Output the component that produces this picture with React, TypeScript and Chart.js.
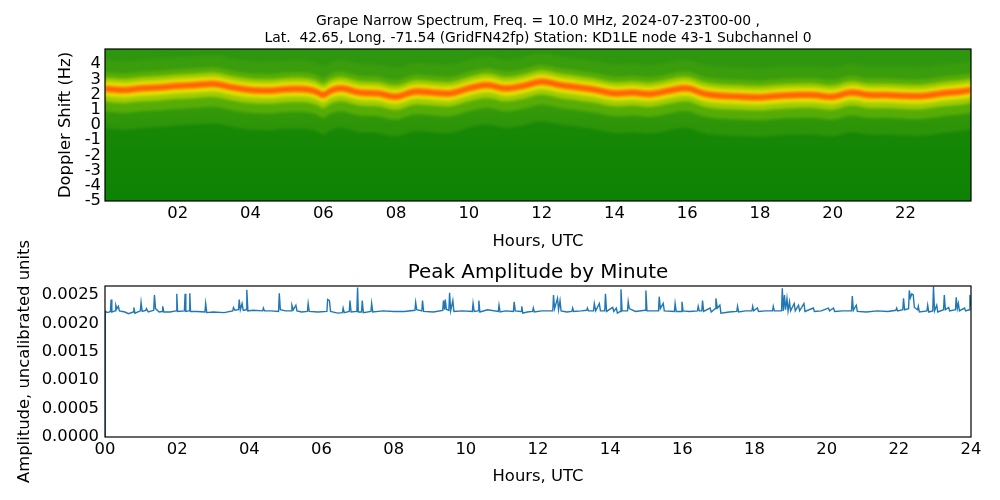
import React, { useEffect, useRef } from "react";
import { Chart, registerables } from "chart.js";

Chart.register(...registerables);

// ---------- data ----------
const spectrumTitle = [
  "Grape Narrow Spectrum, Freq. = 10.0 MHz, 2024-07-23T00-00 ,",
  "Lat.  42.65, Long. -71.54 (GridFN42fp) Station: KD1LE node 43-1 Subchannel 0",
];
const amplitudeTitle = "Peak Amplitude by Minute";

// peak Doppler ridge of the spectrogram (hours UTC, Hz)
const ridgeHours = [
  0, 0.5, 1, 1.5, 2, 2.5, 3, 3.5, 4, 4.5, 5, 5.5, 5.8, 6, 6.2, 6.5, 7, 7.5, 8, 8.5, 9, 9.5, 10,
  10.5, 11, 11.5, 12, 12.5, 13, 13.5, 14, 14.5, 15, 15.5, 16, 16.5, 17, 17.5, 18, 18.5, 19, 19.5,
  20, 20.5, 21, 21.5, 22, 22.5, 23, 23.5, 23.8,
];
const ridgeDoppler = [
  2.38, 2.3, 2.41, 2.47, 2.57, 2.63, 2.7, 2.47, 2.3, 2.26, 2.35, 2.35, 2.2, 1.97, 2.25, 2.41, 2.13,
  2.08, 1.86, 2.19, 2.13, 2.08, 2.41, 2.63, 2.41, 2.57, 2.85, 2.63, 2.47, 2.3, 2.08, 2.13, 2.04, 2.26,
  2.41, 2.04, 1.91, 1.86, 1.82, 1.91, 1.97, 1.97, 1.86, 2.13, 1.97, 1.97, 1.91, 1.91, 2.08, 2.19, 2.3,
];
const dopplerTicks = [-5, -4, -3, -2, -1, 0, 1, 2, 3, 4];
const spectrumHourTicks = [2, 4, 6, 8, 10, 12, 14, 16, 18, 20, 22];

// peak amplitude by minute: [hour, amplitude]
const amplitudeSamples: [number, number][] = [
  [0, 0], [0.005, 0.00221], [0.08, 0.00219], [0.15, 0.00221], [0.17, 0.00242], [0.19, 0.0022],
  [0.28, 0.00222], [0.3, 0.00232], [0.33, 0.00226], [0.37, 0.0023], [0.4, 0.00222], [0.55, 0.0022],
  [0.65, 0.00217], [0.78, 0.0022], [0.8, 0.00228], [0.83, 0.00218], [0.98, 0.00222], [1.0, 0.00237],
  [1.03, 0.00221], [1.13, 0.00223], [1.15, 0.00226], [1.2, 0.0022], [1.35, 0.00223], [1.37, 0.0025],
  [1.4, 0.00226], [1.5, 0.0022], [1.58, 0.00221], [1.6, 0.0023], [1.63, 0.0022], [1.8, 0.0022],
  [1.97, 0.00222], [1.99, 0.00252], [2.01, 0.00221], [2.2, 0.00222], [2.22, 0.00252], [2.24, 0.00221],
  [2.33, 0.00222], [2.35, 0.00253], [2.37, 0.00221], [2.55, 0.00221], [2.77, 0.0022], [2.79, 0.00235],
  [2.82, 0.00219], [3.0, 0.0022], [3.3, 0.00219], [3.54, 0.00222], [3.56, 0.00228], [3.6, 0.00223],
  [3.7, 0.00224], [3.72, 0.00242], [3.75, 0.00224], [3.8, 0.00235], [3.83, 0.00223], [3.91, 0.00224],
  [3.93, 0.00259], [3.96, 0.00222], [4.1, 0.00223], [4.37, 0.00222], [4.39, 0.00227], [4.42, 0.00222],
  [4.6, 0.00222], [4.81, 0.00221], [4.83, 0.00253], [4.86, 0.00224], [5.0, 0.00222], [5.16, 0.00222],
  [5.18, 0.00232], [5.22, 0.00224], [5.29, 0.00232], [5.32, 0.00222], [5.45, 0.0022], [5.61, 0.00221],
  [5.63, 0.00235], [5.66, 0.00221], [5.9, 0.0022], [6.15, 0.00221], [6.17, 0.00242], [6.22, 0.0024],
  [6.25, 0.00221], [6.45, 0.00218], [6.58, 0.00219], [6.6, 0.00227], [6.63, 0.00219], [6.77, 0.00221],
  [6.79, 0.0024], [6.82, 0.0022], [6.98, 0.00221], [7.0, 0.00263], [7.02, 0.0022], [7.11, 0.0022],
  [7.13, 0.0024], [7.16, 0.00219], [7.37, 0.00221], [7.39, 0.00235], [7.42, 0.0022], [7.7, 0.00222],
  [8.0, 0.00221], [8.3, 0.00221], [8.59, 0.00223], [8.61, 0.00237], [8.64, 0.00224], [8.78, 0.00222],
  [8.8, 0.0024], [8.83, 0.00221], [9.1, 0.0022], [9.36, 0.00223], [9.38, 0.0024], [9.41, 0.00224],
  [9.43, 0.00242], [9.46, 0.00225], [9.53, 0.00223], [9.55, 0.00254], [9.58, 0.00222], [9.64, 0.0024],
  [9.67, 0.00221], [9.9, 0.00222], [10.18, 0.00221], [10.2, 0.00235], [10.23, 0.00221], [10.34, 0.00222],
  [10.36, 0.0024], [10.39, 0.0022], [10.6, 0.00224], [10.9, 0.00221], [10.92, 0.00232], [10.95, 0.0022],
  [11.1, 0.00222], [11.32, 0.00221], [11.34, 0.00238], [11.37, 0.00222], [11.53, 0.00221], [11.55, 0.0023],
  [11.58, 0.00218], [11.7, 0.0022], [11.85, 0.00221], [11.87, 0.00227], [11.9, 0.0022], [12.1, 0.00222],
  [12.41, 0.00222], [12.43, 0.0025], [12.46, 0.00226], [12.54, 0.00244], [12.57, 0.00224], [12.61, 0.0024],
  [12.64, 0.00222], [12.8, 0.0022], [12.94, 0.00221], [12.96, 0.00227], [12.99, 0.00221], [13.2, 0.00222],
  [13.35, 0.00223], [13.37, 0.00227], [13.4, 0.00222], [13.54, 0.00222], [13.56, 0.00235], [13.6, 0.00222],
  [13.7, 0.00235], [13.73, 0.00222], [13.85, 0.00222], [13.87, 0.00252], [13.9, 0.00221], [14.07, 0.00228],
  [14.1, 0.00221], [14.17, 0.00227], [14.2, 0.00218], [14.28, 0.00221], [14.3, 0.0026], [14.33, 0.00222],
  [14.48, 0.00222], [14.5, 0.00238], [14.53, 0.00226], [14.7, 0.00221], [14.97, 0.00223], [14.99, 0.00258],
  [15.02, 0.00222], [15.34, 0.00222], [15.36, 0.00247], [15.39, 0.00226], [15.47, 0.00235], [15.5, 0.00222],
  [15.78, 0.00221], [15.8, 0.00235], [15.83, 0.00221], [15.97, 0.00221], [15.99, 0.00238], [16.02, 0.00222],
  [16.2, 0.00221], [16.42, 0.00222], [16.44, 0.0023], [16.47, 0.00222], [16.54, 0.00222], [16.56, 0.0024],
  [16.59, 0.00221], [16.77, 0.00227], [16.8, 0.0022], [16.91, 0.00226], [16.93, 0.00244], [16.97, 0.00227],
  [17.04, 0.00232], [17.07, 0.00218], [17.3, 0.0022], [17.51, 0.00221], [17.53, 0.0023], [17.56, 0.0022],
  [17.75, 0.00222], [17.93, 0.00222], [17.95, 0.0023], [17.98, 0.00222], [18.08, 0.00227], [18.11, 0.00221],
  [18.3, 0.00222], [18.5, 0.00222], [18.52, 0.0023], [18.55, 0.00222], [18.75, 0.00222], [18.77, 0.00262],
  [18.8, 0.00222], [18.83, 0.0025], [18.86, 0.00224], [18.9, 0.00244], [18.93, 0.00222], [18.97, 0.00238],
  [19.0, 0.00222], [19.1, 0.00235], [19.13, 0.00222], [19.22, 0.00232], [19.25, 0.00222], [19.37, 0.00235],
  [19.4, 0.00221], [19.63, 0.00227], [19.66, 0.00221], [19.85, 0.00222], [20.05, 0.00227], [20.08, 0.00222],
  [20.19, 0.00227], [20.22, 0.00221], [20.45, 0.00222], [20.69, 0.00222], [20.71, 0.00248], [20.74, 0.00223],
  [20.82, 0.00232], [20.85, 0.00221], [21.1, 0.0022], [21.4, 0.00222], [21.7, 0.00221], [21.92, 0.00223],
  [21.94, 0.00227], [21.97, 0.00222], [22.11, 0.00224], [22.13, 0.00244], [22.16, 0.00224], [22.27, 0.00226],
  [22.29, 0.00258], [22.32, 0.00245], [22.36, 0.00252], [22.4, 0.0025], [22.43, 0.00228], [22.52, 0.00224],
  [22.54, 0.0023], [22.57, 0.0022], [22.78, 0.00222], [22.8, 0.00232], [22.83, 0.0022], [22.94, 0.00222],
  [22.96, 0.00265], [22.99, 0.00222], [23.05, 0.00232], [23.08, 0.0022], [23.24, 0.00224], [23.26, 0.0025],
  [23.29, 0.00224], [23.38, 0.00228], [23.41, 0.00222], [23.57, 0.00224], [23.59, 0.00246], [23.62, 0.00226],
  [23.65, 0.00235], [23.68, 0.00222], [23.82, 0.00227], [23.85, 0.00222], [23.95, 0.00224], [23.97, 0.0025],
  [23.99, 0.0023],
];
const amplitudeHourTicks = [0, 2, 4, 6, 8, 10, 12, 14, 16, 18, 20, 22, 24];
const amplitudeTicks = [0, 0.0005, 0.001, 0.0015, 0.002, 0.0025];

// ---------- styling ----------
const FONT = "'DejaVu Sans', sans-serif";
const tickFont = { family: FONT, size: 16.4 };
const hourLabel = (v: number) => String(v).padStart(2, "0");

function framePlugin(lines: string[], size: number, ys: number[], spectrum: boolean) {
  return {
    id: "frameAndTitle",
    beforeDatasetsDraw(chart: any) {
      const { ctx, chartArea: a } = chart;
      if (spectrum) {
        ctx.save();
        const g = ctx.createLinearGradient(0, a.top, 0, a.bottom);
        g.addColorStop(0, "#2c960e");
        g.addColorStop(0.3, "#35990f");
        g.addColorStop(0.5, "#188806");
        g.addColorStop(1, "#0d8203");
        ctx.fillStyle = g;
        ctx.fillRect(a.left, a.top, a.right - a.left, a.bottom - a.top);
        ctx.restore();
        ctx.save();
        ctx.filter = "blur(1.5px)";
      }
    },
    afterDatasetsDraw(chart: any) {
      if (spectrum) chart.ctx.restore();
    },
    afterDraw(chart: any) {
      const { ctx, chartArea: a } = chart;
      ctx.save();
      ctx.strokeStyle = "#000";
      ctx.lineWidth = 1.2;
      ctx.strokeRect(a.left, a.top, a.right - a.left, a.bottom - a.top);
      ctx.fillStyle = "#000";
      ctx.font = `${size}px ${FONT}`;
      ctx.textAlign = "center";
      ctx.textBaseline = "middle";
      const cx = (a.left + a.right) / 2;
      lines.forEach((t, i) => ctx.fillText(t, cx, ys[i]));
      ctx.restore();
    },
  };
}

function band(offset: number) {
  return ridgeHours.map((h, i) => ({ x: h, y: ridgeDoppler[i] + offset }));
}

function bandPair(up: number, down: number, color: string) {
  return [
    { data: band(up), borderWidth: 0, pointRadius: 0, tension: 0.35, fill: "+1", backgroundColor: color },
    { data: band(down), borderWidth: 0, pointRadius: 0, tension: 0.35, fill: false },
  ];
}

export default function App() {
  const topRef = useRef<HTMLCanvasElement>(null);
  const botRef = useRef<HTMLCanvasElement>(null);

  useEffect(() => {
    const top = new Chart(topRef.current!, {
      type: "line",
      data: {
        datasets: [
          {
            data: band(0),
            borderColor: "#ff5200",
            borderWidth: 3,
            pointRadius: 0,
            tension: 0.35,
            fill: false,
          },
          ...bandPair(0.24, -0.24, "#ff8a00"),
          ...bandPair(0.46, -0.48, "#e6e400"),
          ...bandPair(0.75, -0.85, "#a2cc00"),
          ...bandPair(1.1, -1.5, "rgba(95,178,5,0.8)"),
          ...bandPair(1.9, -2.6, "rgba(70,165,10,0.45)"),
        ] as any,
      },
      options: {
        responsive: false,
        animation: false,
        events: [],
        layout: { padding: { top: 49, right: 29, left: 0, bottom: 0 } },
        plugins: { legend: { display: false }, title: { display: false }, tooltip: { enabled: false } },
        scales: {
          x: {
            type: "linear",
            min: 0,
            max: 23.8,
            grid: { display: false, drawTicks: false },
            border: { display: false },
            afterBuildTicks: (s: any) => {
              s.ticks = spectrumHourTicks.map((v) => ({ value: v }));
            },
            afterFit: (s: any) => {
              s.height = 49;
            },
            ticks: {
              autoSkip: false,
              maxRotation: 0,
              padding: 3,
              color: "#000",
              font: tickFont,
              callback: (v: any) => hourLabel(Number(v)),
            },
            title: { display: true, text: "Hours, UTC", color: "#000", font: tickFont, padding: { top: 0, bottom: -2 } },
          },
          y: {
            type: "linear",
            min: -5,
            max: 5,
            grid: { display: false, drawTicks: false },
            border: { display: false },
            afterBuildTicks: (s: any) => {
              s.ticks = dopplerTicks.map((v) => ({ value: v }));
            },
            afterFit: (s: any) => {
              s.width = 105;
            },
            ticks: { autoSkip: false, padding: 4, color: "#000", font: tickFont, callback: (v: any) => String(v) },
            title: {
              display: true,
              text: "Doppler Shift (Hz)",
              color: "#000",
              font: tickFont,
              padding: { top: 56, bottom: 0 },
            },
          },
        },
      },
      plugins: [framePlugin(spectrumTitle, 13.9, [21.5, 38.3], true)],
    });

    const bot = new Chart(botRef.current!, {
      type: "line",
      data: {
        datasets: [
          {
            data: amplitudeSamples.map(([h, v]) => ({ x: h, y: v })),
            borderColor: "#1f77b4",
            borderWidth: 1.4,
            pointRadius: 0,
            tension: 0,
            fill: false,
          },
        ],
      },
      options: {
        responsive: false,
        animation: false,
        events: [],
        layout: { padding: { top: 56, right: 29, left: 0, bottom: 0 } },
        plugins: { legend: { display: false }, title: { display: false }, tooltip: { enabled: false } },
        scales: {
          x: {
            type: "linear",
            min: 0,
            max: 24,
            grid: { display: false, drawTicks: false },
            border: { display: false },
            afterBuildTicks: (s: any) => {
              s.ticks = amplitudeHourTicks.map((v) => ({ value: v }));
            },
            afterFit: (s: any) => {
              s.height = 63;
            },
            ticks: {
              autoSkip: false,
              maxRotation: 0,
              padding: 3,
              color: "#000",
              font: tickFont,
              callback: (v: any) => hourLabel(Number(v)),
            },
            title: { display: true, text: "Hours, UTC", color: "#000", font: tickFont, padding: { top: 0, bottom: 13 } },
          },
          y: {
            type: "linear",
            min: 0,
            max: 0.002658,
            grid: { display: false, drawTicks: false },
            border: { display: false },
            afterBuildTicks: (s: any) => {
              s.ticks = amplitudeTicks.map((v) => ({ value: v }));
            },
            afterFit: (s: any) => {
              s.width = 105;
            },
            ticks: {
              autoSkip: false,
              padding: 6,
              color: "#000",
              font: tickFont,
              callback: (v: any) => Number(v).toFixed(4),
            },
            title: {
              display: true,
              text: "Amplitude, uncalibrated units",
              color: "#000",
              font: tickFont,
              padding: { top: 15, bottom: 0 },
            },
          },
        },
      },
      plugins: [framePlugin([amplitudeTitle], 19.9, [42.7], false)],
    });

    return () => {
      top.destroy();
      bot.destroy();
    };
  }, []);

  return (
    <div style={{ position: "absolute", left: 0, top: 0, width: 1000, height: 500, background: "#fff" }}>
      <canvas
        ref={topRef}
        width={1000}
        height={250}
        style={{ position: "absolute", left: 0, top: 0, display: "block", width: 1000, height: 250 }}
      />
      <canvas
        ref={botRef}
        width={1000}
        height={270}
        style={{ position: "absolute", left: 0, top: 230, display: "block", width: 1000, height: 270 }}
      />
    </div>
  );
}
